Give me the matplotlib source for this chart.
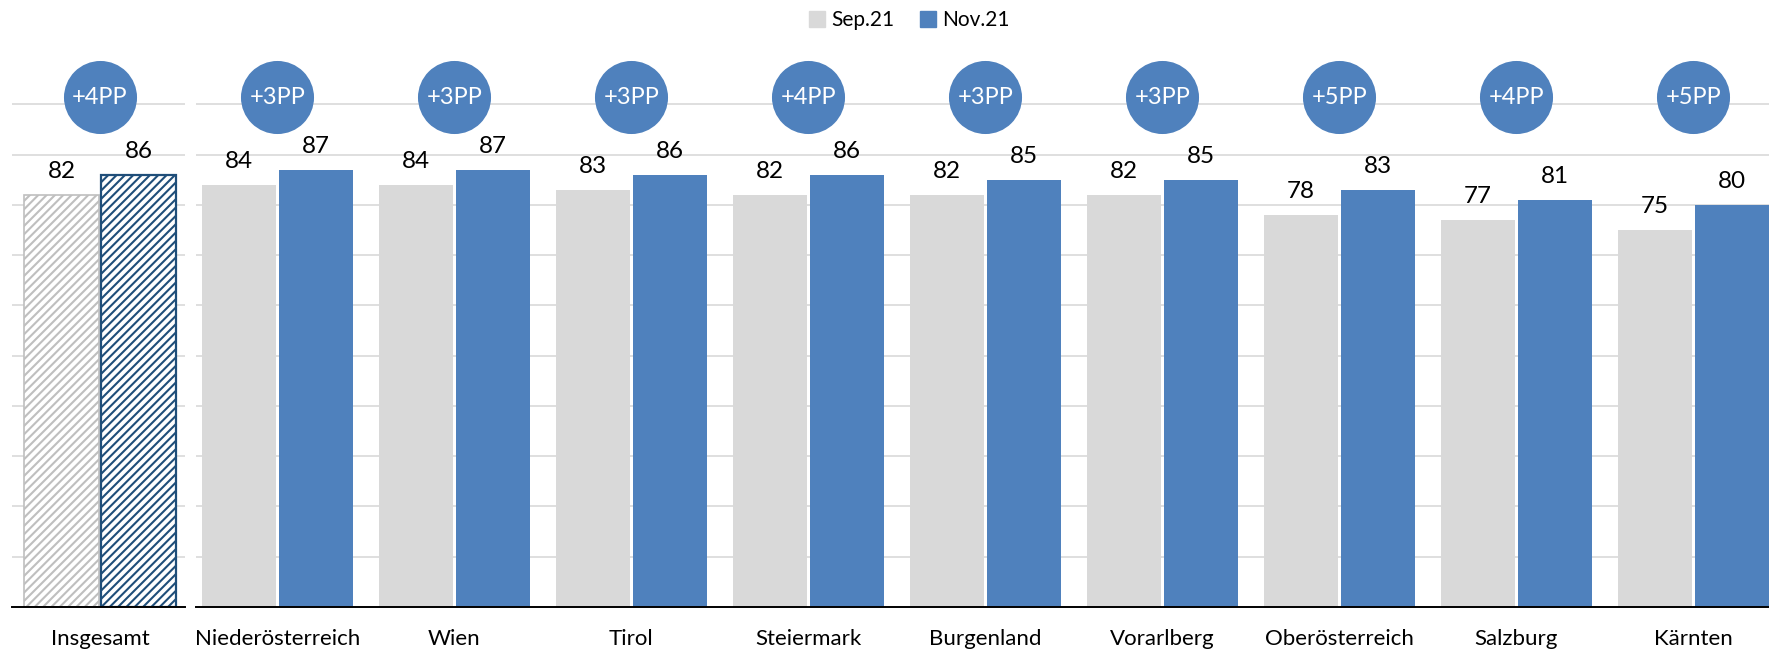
import matplotlib.pyplot as plt
from matplotlib.patches import Patch

plt.rcParams['font.family'] = ['Lato', 'DejaVu Sans']
plt.rcParams['hatch.linewidth'] = 1.5

# data
total_label = "Insgesamt"
total_sep = 82
total_nov = 86
total_diff = "+4PP"

regions = ["Niederösterreich", "Wien", "Tirol", "Steiermark", "Burgenland",
           "Vorarlberg", "Oberösterreich", "Salzburg", "Kärnten"]
sep21 = [84, 84, 83, 82, 82, 82, 78, 77, 75]
nov21 = [87, 87, 86, 86, 85, 85, 83, 81, 80]
diffs = ["+3PP", "+3PP", "+3PP", "+4PP", "+3PP", "+3PP", "+5PP", "+4PP", "+5PP"]

GREY = "#D9D9D9"
BLUE = "#4F81BD"
W, H = 1769, 649

fig = plt.figure(figsize=(W / 100, H / 100), dpi=100)

bottom = 42 / H
height = 553 / H
ax0 = fig.add_axes([12 / W, bottom, 173 / W, height])
ax1 = fig.add_axes([196 / W, bottom, (W - 196) / W, height])

bw = 0.42
off = 0.2175


def style(ax):
    ax.set_ylim(0, 110)
    ax.set_yticks(range(0, 101, 10))
    ax.yaxis.grid(True, color=GREY, linewidth=1.2)
    ax.set_axisbelow(True)
    ax.tick_params(axis='y', left=False, labelleft=False)
    ax.tick_params(axis='x', length=0, pad=16, labelsize=16)
    for s in ['top', 'right', 'left']:
        ax.spines[s].set_visible(False)
    ax.spines['bottom'].set_color('black')
    ax.spines['bottom'].set_linewidth(1.4)
    ax.spines['bottom'].set_zorder(5)


def value_label(ax, x, v):
    ax.annotate(str(v), (x, v), xytext=(0, 12), textcoords='offset points',
                ha='center', va='baseline', fontsize=17.5, color='black')


def bubble(ax, x, txt):
    ax.scatter([x], [101.4], s=2767, color=BLUE, zorder=4, clip_on=False, linewidths=0)
    ax.text(x, 101.4, txt, ha='center', va='center', color='white', fontsize=17, zorder=5)


# total (left panel, hatched)
style(ax0)
ax0.set_xlim(-0.497, 0.480)
ax0.bar(-off, total_sep, bw, facecolor='white', edgecolor='#BFBFBF', hatch='////', linewidth=1.2)
ax0.bar(off, total_nov, bw, facecolor='white', edgecolor='#1F4E79', hatch='////', linewidth=1.6)
ax0.set_xticks([0])
ax0.set_xticklabels([total_label])
value_label(ax0, -off, total_sep)
value_label(ax0, off, total_nov)
bubble(ax0, 0, total_diff)

# regions (right panel)
style(ax1)
x = list(range(len(regions)))
ax1.set_xlim(-0.46, 8.427)
ax1.bar([i - off for i in x], sep21, bw, color=GREY)
ax1.bar([i + off for i in x], nov21, bw, color=BLUE)
ax1.set_xticks(x)
ax1.set_xticklabels(regions)
for i in x:
    value_label(ax1, i - off, sep21[i])
    value_label(ax1, i + off, nov21[i])
    bubble(ax1, i, diffs[i])

handles = [Patch(color=GREY, label="Sep.21"), Patch(color=BLUE, label="Nov.21")]
fig.legend(handles=handles, loc='center', bbox_to_anchor=(0.514, 1 - 20 / H), ncol=2,
           frameon=False, fontsize=15, handlelength=0.8, handleheight=0.8,
           handletextpad=0.3, columnspacing=1.2)

fig.savefig("out.png", dpi=100)
